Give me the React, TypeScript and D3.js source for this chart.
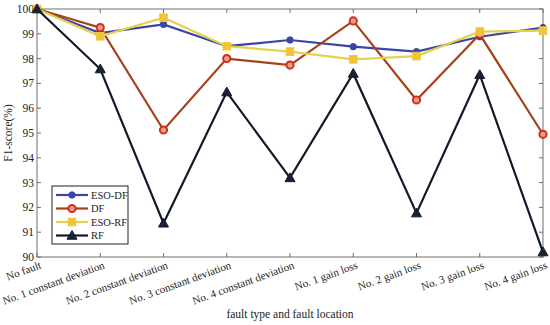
import React from "react";
import * as d3 from "d3";

const categories = [
  "No fault",
  "No. 1 constant deviation",
  "No. 2 constant deviation",
  "No. 3 constant deviation",
  "No. 4 constant deviation",
  "No. 1 gain loss",
  "No. 2 gain loss",
  "No. 3 gain loss",
  "No. 4 gain loss",
];

const esoDF = [100, 99.03, 99.38, 98.5, 98.75, 98.48, 98.28, 98.88, 99.25];
const dF = [100, 99.25, 95.12, 98.0, 97.74, 99.52, 96.33, 98.98, 94.95];
const esoRF = [100, 98.9, 99.65, 98.5, 98.28, 97.97, 98.1, 99.09, 99.13];
const rF = [100, 97.58, 91.36, 96.65, 93.19, 97.4, 91.77, 97.35, 90.2];

const yTicks = [90, 91, 92, 93, 94, 95, 96, 97, 98, 99, 100];

const series = [
  { name: "ESO-DF", values: esoDF, color: "#3c44a6", marker: "dot" },
  { name: "DF", values: dF, color: "#a5421c", marker: "ring" },
  { name: "ESO-RF", values: esoRF, color: "#e3d24a", marker: "square" },
  { name: "RF", values: rF, color: "#111a2a", marker: "triangle" },
];

const W = 550;
const H = 325;
const margin = { top: 9, right: 7, bottom: 68, left: 37 };
const font = "'Liberation Serif', 'Times New Roman', serif";
const axisColor = "#6e6e6e";

function Marker({ kind, x, y }: { kind: string; x: number; y: number }) {
  if (kind === "dot") return <circle cx={x} cy={y} r={3.2} fill="#3c44a6" stroke="#3c44a6" />;
  if (kind === "ring")
    return <circle cx={x} cy={y} r={3.6} fill="#e8a080" stroke="#cc2e20" strokeWidth={2} />;
  if (kind === "square")
    return <rect x={x - 3.8} y={y - 3.8} width={7.6} height={7.6} fill="#f0c338" stroke="#e8cc40" />;
  const s = 5;
  return (
    <path
      d={`M${x},${y - s} L${x + s},${y + s * 0.75} L${x - s},${y + s * 0.75} Z`}
      fill="#1a2236"
      stroke="#111a2a"
    />
  );
}

export default function App() {
  const x = d3
    .scalePoint<string>()
    .domain(categories)
    .range([margin.left, W - margin.right]);
  const y = d3.scaleLinear().domain([90, 100]).range([H - margin.bottom, margin.top]);

  const line = d3
    .line<number>()
    .x((_, i) => x(categories[i]) as number)
    .y((d) => y(d));

  const x0 = margin.left;
  const x1 = W - margin.right;
  const y0 = H - margin.bottom;
  const y1 = margin.top;

  const legendX = 52;
  const legendY = 186;
  const legendStep = 13.5;

  return (
    <svg width={W} height={H} style={{ position: "absolute", left: 0, top: 0 }} fontFamily={font}>
      <rect width={W} height={H} fill="#fff" />
      {/* box */}
      <rect x={x0} y={y1} width={x1 - x0} height={y0 - y1} fill="none" stroke={axisColor} strokeWidth={1} />
      {/* y ticks */}
      {yTicks.map((t) => (
        <g key={t}>
          <line x1={x0} x2={x0 + 4} y1={y(t)} y2={y(t)} stroke={axisColor} />
          <line x1={x1} x2={x1 - 4} y1={y(t)} y2={y(t)} stroke={axisColor} />
          <text x={x0 - 3} y={y(t)} dy="0.35em" textAnchor="end" fontSize={11.5} fill="#222">
            {t}
          </text>
        </g>
      ))}
      {/* x ticks */}
      {categories.map((c) => {
        const cx = x(c) as number;
        return (
          <g key={c}>
            <line x1={cx} x2={cx} y1={y0} y2={y0 - 4} stroke={axisColor} />
            <line x1={cx} x2={cx} y1={y1} y2={y1 + 4} stroke={axisColor} />
            <text
              transform={`translate(${cx + 5},${y0 + 11}) rotate(-20)`}
              textAnchor="end"
              fontSize={11}
              fill="#222"
            >
              {c}
            </text>
          </g>
        );
      })}
      <text
        transform={`translate(12,${(y0 + y1) / 2}) rotate(-90)`}
        textAnchor="middle"
        fontSize={11.5}
        fill="#222"
      >
        F1-score(%)
      </text>
      <text x={290} y={318} textAnchor="middle" fontSize={11.5} fill="#222">
        fault type and fault location
      </text>
      {/* series */}
      {series.map((s) => (
        <g key={s.name}>
          <path d={line(s.values) || ""} fill="none" stroke={s.color} strokeWidth={2.2} />
          {s.values.map((v, i) => (
            <Marker key={i} kind={s.marker} x={x(categories[i]) as number} y={y(v)} />
          ))}
        </g>
      ))}
      {/* legend */}
      <rect
        x={legendX}
        y={legendY}
        width={76}
        height={legendStep * 4 + 4}
        fill="#fff"
        stroke="#222"
        strokeWidth={1}
      />
      {series.map((s, i) => {
        const ly = legendY + 9 + i * legendStep;
        return (
          <g key={s.name}>
            <line x1={legendX + 4} x2={legendX + 36} y1={ly} y2={ly} stroke={s.color} strokeWidth={2.2} />
            <Marker kind={s.marker} x={legendX + 20} y={ly} />
            <text x={legendX + 39} y={ly} dy="0.35em" fontSize={10.5} fill="#222">
              {s.name}
            </text>
          </g>
        );
      })}
    </svg>
  );
}
